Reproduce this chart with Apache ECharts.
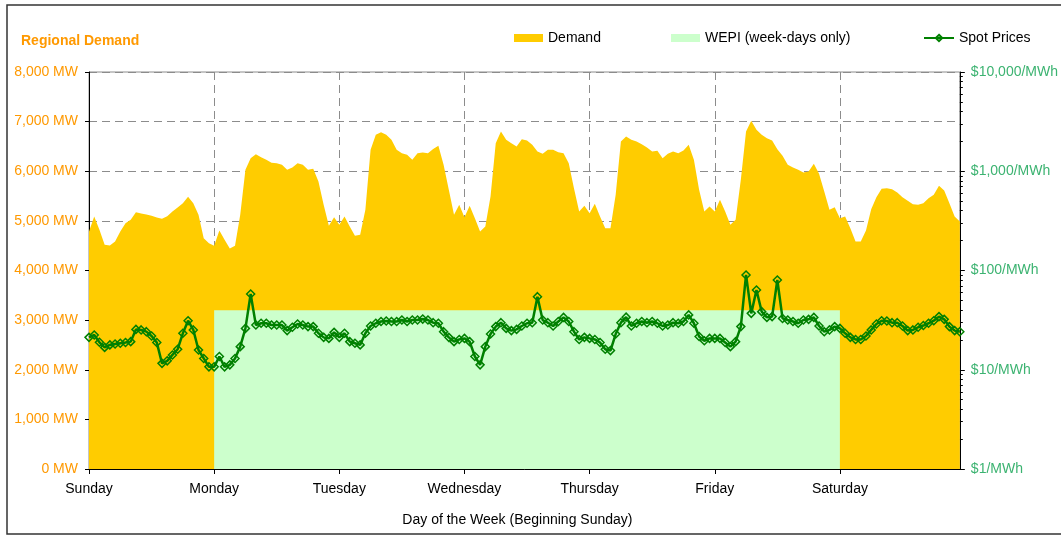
<!DOCTYPE html>
<html>
<head>
<meta charset="utf-8">
<title>Regional Demand</title>
<script src="https://cdn.jsdelivr.net/npm/echarts@6/dist/echarts.min.js"></script>
<style>
  html, body { margin: 0; padding: 0; background: #fff; }
  #main { width: 1061px; height: 536px; }
</style>
</head>
<body>
<div id="main"></div>
<script>
// day names on the x axis (one tick per day, week starts Sunday)
var days = ['Sunday', 'Monday', 'Tuesday', 'Wednesday', 'Thursday', 'Friday', 'Saturday'];

// hourly regional demand, MW (one row per day)
var demandMW = [
  4786, 5088, 4819, 4517, 4503, 4584, 4786, 4954, 5021, 5175, 5148, 5128, 5101, 5068, 5041, 5095, 5189, 5269, 5357, 5484, 5357, 5122, 4651, 4550,
  4497, 4806, 4618, 4443, 4497, 5122, 6029, 6264, 6345, 6284, 6230, 6170, 6163, 6130, 6029, 6076, 6163, 6130, 6029, 6049, 5794, 5323, 4900, 5075,
  4920, 5088, 4886, 4698, 4718, 5222, 6432, 6734, 6788, 6734, 6634, 6432, 6365, 6331, 6230, 6365, 6378, 6365, 6446, 6513, 6130, 5626, 5122, 5323,
  5075, 5303, 5054, 4786, 4886, 5491, 6566, 6802, 6634, 6566, 6499, 6647, 6620, 6533, 6398, 6351, 6432, 6432, 6385, 6365, 6163, 5659, 5189, 5303,
  5155, 5343, 5088, 4853, 4853, 5525, 6600, 6701, 6634, 6600, 6546, 6479, 6398, 6412, 6264, 6351, 6398, 6365, 6418, 6533, 6230, 5626, 5189, 5290,
  5189, 5424, 5189, 4920, 5021, 5827, 6802, 7020, 6835, 6734, 6667, 6620, 6445, 6311, 6130, 6076, 6029, 5975, 5995, 6150, 5948, 5592, 5222, 5276,
  5054, 5088, 4853, 4584, 4584, 4806, 5236, 5478, 5646, 5659, 5639, 5572, 5478, 5404, 5337, 5323, 5357, 5458, 5525, 5706, 5612, 5357, 5088, 4987
];

// hourly spot prices, $/MWh (log scale on the right)
var spotPrice = [
  21.2, 22.4, 18.9, 16.8, 17.8, 18.2, 18.5, 18.8, 19.2, 25.5, 25.2, 24.2, 21.9, 18.8, 11.6, 12.3, 14.1, 16.1, 23.3, 31.2, 25.2, 15.8, 13.0, 10.7,
  10.7, 13.6, 10.7, 11.2, 13.0, 17.1, 26.1, 58.0, 28.2, 29.4, 29.4, 28.2, 28.2, 28.2, 24.8, 26.8, 28.9, 28.2, 27.2, 27.2, 23.3, 21.2, 20.7, 23.8,
  21.2, 23.3, 19.2, 18.5, 17.8, 23.3, 27.6, 29.4, 30.6, 31.0, 30.6, 30.6, 31.7, 30.6, 31.7, 31.7, 32.4, 31.7, 29.8, 29.4, 24.2, 21.2, 19.2, 20.2,
  20.7, 19.2, 13.6, 11.2, 17.1, 22.9, 27.2, 29.8, 26.1, 24.8, 25.5, 27.6, 29.4, 29.8, 54.5, 31.7, 29.8, 27.6, 30.6, 33.7, 30.6, 24.2, 20.2, 21.2,
  20.7, 20.2, 18.8, 16.1, 15.6, 22.9, 29.8, 33.9, 27.6, 29.4, 30.6, 29.8, 30.6, 29.4, 27.6, 28.2, 29.8, 29.4, 30.6, 35.7, 29.4, 21.6, 19.6, 20.7,
  20.7, 20.7, 18.8, 17.1, 19.2, 27.2, 90.2, 37.0, 63.7, 38.5, 33.7, 34.3, 80.2, 32.9, 31.7, 30.6, 29.4, 31.7, 32.2, 33.7, 27.6, 24.2, 25.2, 27.2,
  26.1, 23.3, 21.2, 20.2, 20.2, 21.9, 25.2, 28.9, 31.2, 31.0, 29.8, 29.8, 27.6, 24.8, 25.2, 26.8, 27.9, 29.4, 31.2, 34.3, 32.2, 27.2, 24.8, 24.2
];

// WEPI band: week-days only (Monday 0:00 to Saturday 0:00), MW
var wepiDays = [1, 6];
var wepiLevel = [3200, 3200];

// tick values
var priceTicks = [1, 10, 100, 1000, 10000];

var priceMinorTicks = [];
for (var d = 1; d < 10000; d *= 10) {
  for (var k = 2; k <= 9; k++) priceMinorTicks.push(d * k);
}

var hourData = function (arr) {
  return arr.map(function (v, i) { return [i / 24, v]; });
};
var lastX = (demandMW.length - 1) / 24;

var ORANGE = '#FF9900';
var GREEN_TXT = '#3CB371';
var FONT = '"Liberation Sans", Arial, sans-serif';

var myChart = echarts.init(document.getElementById('main'));

var option = {
  animation: false,
  backgroundColor: '#fff',
  textStyle: { fontFamily: FONT, fontSize: 14, color: '#000' },
  title: {
    text: 'Regional Demand',
    left: 21, top: 34, padding: 0,
    textStyle: { color: ORANGE, fontSize: 14, fontWeight: 'bold', fontFamily: FONT }
  },
  legend: [
    { data: ['Demand'], left: 514, top: 31, padding: 0, icon: 'rect', itemWidth: 29, itemHeight: 8,
      textStyle: { fontSize: 14, fontFamily: FONT, color: '#000' } },
    { data: ['WEPI (week-days only)'], left: 671, top: 31, padding: 0, icon: 'rect', itemWidth: 29, itemHeight: 8,
      textStyle: { fontSize: 14, fontFamily: FONT, color: '#000' } },
    { data: ['Spot Prices'], left: 923, top: 31, padding: 0, itemWidth: 30, itemHeight: 8,
      textStyle: { fontSize: 14, fontFamily: FONT, color: '#000' } }
  ],
  grid: {
    left: 89, right: 97, top: 72, bottom: 67,
    show: true, borderColor: '#8c8c8c', borderWidth: 1, backgroundColor: 'transparent'
  },
  xAxis: {
    type: 'value',
    min: 0, max: lastX, interval: 1,
    name: 'Day of the Week (Beginning Sunday)',
    nameLocation: 'middle', nameGap: 44,
    nameTextStyle: { fontSize: 14, fontFamily: FONT, color: '#000', padding: [0, 14, 0, 0] },
    axisLine: { lineStyle: { color: '#000', width: 1 } },
    axisTick: { length: 5, lineStyle: { color: '#000' } },
    axisLabel: {
      margin: 13, fontSize: 14, fontFamily: FONT, color: '#000', showMaxLabel: false,
      formatter: function (v) { return Number.isInteger(v) ? (days[v] || '') : ''; }
    },
    splitLine: { show: true, lineStyle: { color: '#8c8c8c', type: [8, 5], width: 1 } }
  },
  yAxis: [
    {
      type: 'value', position: 'left',
      min: 0, max: 8000, interval: 1000,
      axisLine: { show: true, lineStyle: { color: '#000', width: 1 } },
      axisTick: { show: true, length: 4, lineStyle: { color: '#000' } },
      axisLabel: {
        margin: 11, fontSize: 14, fontFamily: FONT, color: ORANGE,
        formatter: function (v) { return v.toLocaleString('en-US') + ' MW'; }
      },
      splitLine: { show: true, lineStyle: { color: '#8c8c8c', type: [8, 5], width: 1 } }
    },
    {
      type: 'log', logBase: 10, position: 'right',
      min: 1, max: 10000,
      axisLine: { show: true, lineStyle: { color: '#000', width: 1 } },
      axisTick: { show: true, length: 5, lineStyle: { color: '#000' }, customValues: priceTicks },
      axisLabel: {
        margin: 11, fontSize: 14, fontFamily: FONT, color: GREEN_TXT, customValues: priceTicks,
        formatter: function (v) { return '$' + Number(v).toLocaleString('en-US') + '/MWh'; }
      },
      splitLine: { show: false }
    },
    {
      type: 'log', logBase: 10, position: 'right',
      min: 1, max: 10000,
      axisLine: { show: false },
      axisTick: { show: true, length: 3, lineStyle: { color: '#000' }, customValues: priceMinorTicks },
      axisLabel: { show: false },
      splitLine: { show: false }
    }
  ],
  series: [
    {
      name: 'Demand',
      type: 'line',
      yAxisIndex: 0,
      data: hourData(demandMW),
      showSymbol: false,
      symbol: 'none',
      itemStyle: { color: '#FFCC00' },
      lineStyle: { width: 0, color: '#FFCC00' },
      areaStyle: { color: '#FFCC00', opacity: 1 },
      z: 1
    },
    {
      name: 'WEPI (week-days only)',
      type: 'line',
      yAxisIndex: 0,
      data: wepiDays.map(function (d, i) { return [d, wepiLevel[i]]; }),
      showSymbol: false,
      symbol: 'none',
      itemStyle: { color: '#CCFFCC' },
      lineStyle: { width: 0, color: '#CCFFCC' },
      areaStyle: { color: '#CCFFCC', opacity: 1 },
      z: 2
    },
    {
      name: 'Spot Prices',
      type: 'line',
      yAxisIndex: 1,
      data: hourData(spotPrice),
      symbol: 'diamond',
      symbolSize: 8,
      showAllSymbol: true,
      itemStyle: { color: 'rgba(0,0,0,0)', borderColor: '#008000', borderWidth: 1.5 },
      lineStyle: { color: '#008000', width: 2.5 },
      z: 3
    }
  ],
  graphic: [
    {
      type: 'rect',
      shape: { x: 7, y: 5, width: 1070, height: 529 },
      style: { fill: null, stroke: '#333', lineWidth: 1.5 },
      silent: true
    }
  ]
};

myChart.setOption(option);
</script>
</body>
</html>
